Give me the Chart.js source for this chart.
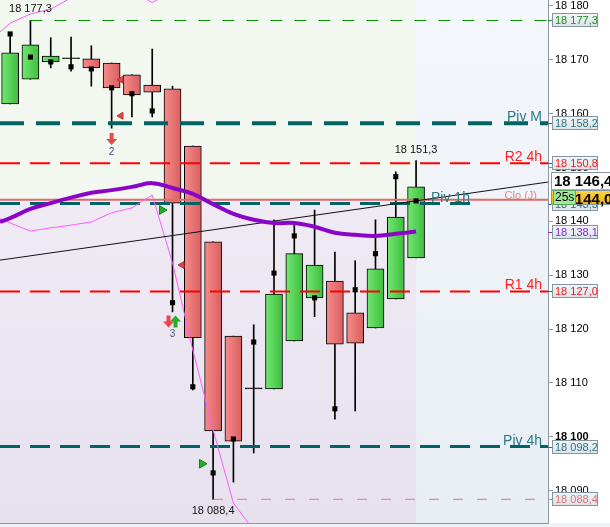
<!DOCTYPE html>
<html>
<head>
<meta charset="utf-8">
<script src="https://cdn.jsdelivr.net/npm/chart.js@4.4.0/dist/chart.umd.min.js"></script>
<style>
body { margin: 0; background: #fff; }
canvas { display: block; }
</style>
</head>
<body>
<canvas id="myChart" width="610" height="527"></canvas>
<script>
// 27 slots on the time axis, the first 21 hold candles
var slotMin = -0.5;
var slotMax = 26.5;
var opens  = [18161.8, 18166.4, 18169.6, 18170.2, 18170.2, 18169.4, 18167.2, 18165.3, 18164.6, 18154.0, 18136.2, 18118.7, 18108.9, 18108.9, 18117.8, 18125.8, 18128.9, 18123.0, 18120.2, 18125.6, 18133.2];
var highs  = [18174.8, 18177.3, 18174.1, 18174.2, 18172.6, 18169.4, 18167.2, 18172.0, 18165.1, 18154.0, 18136.2, 18118.7, 18120.8, 18140.3, 18139.3, 18142.1, 18134.3, 18132.7, 18140.3, 18149.2, 18151.3];
var lows   = [18161.8, 18166.4, 18168.5, 18167.9, 18165.1, 18157.3, 18159.4, 18159.4, 18123.2, 18108.7, 18088.4, 18091.6, 18097.0, 18108.9, 18117.8, 18122.3, 18103.3, 18104.8, 18120.2, 18125.6, 18133.2];
var closes = [18171.3, 18172.8, 18170.7, 18170.2, 18168.5, 18164.8, 18163.5, 18164.0, 18143.4, 18118.4, 18101.1, 18099.2, 18108.9, 18126.5, 18134.0, 18131.9, 18117.2, 18117.4, 18131.2, 18140.8, 18146.4];
var marks  = [18174.8, 18170.5, 18169.6, 18168.7, 18168.3, 18164.8, 18163.7, 18160.5, 18124.9, 18109.3, 18093.3, 18099.6, 18117.6, 18130.4, 18137.3, 18125.8, 18105.2, 18127.3, 18134.0, 18148.3, 18143.8];

// indicators (value at the left edge, then one per candle)
var maEdge = 18139.9;
var maValues = [18140.6, 18142.3, 18143.4, 18144.4, 18145.3, 18145.8, 18146.4, 18147.1, 18146.2, 18145.1, 18143.2, 18141.4, 18140.3, 18139.7, 18139.7, 18139.0, 18137.9, 18137.5, 18137.3, 18137.7, 18138.1];
var bandHighEdge = 18175.2;
var bandHigh = [18176.8, 18178.5, 18179.4, 18181.5, 18183.0, 18183.5, 18182.9, 18180.6, 18182.8, 18190.0, 18198.0, 18204.0];
var bandLowEdge = 18140.5;
var bandLow = [18139.7, 18138.2, 18138.8, 18139.3, 18139.9, 18141.6, 18142.5, 18144.9, 18132.3, 18116.1, 18101.3, 18087.7, 18082.7, 18075.0];
var trendStart = 18132.8;
var trendEnd = 18147.3;

// horizontal levels
var levelValues = [18177.3, 18158.2, 18150.8, 18144.0, 18143.3, 18127.0, 18098.2, 18088.4];
var levelNames  = ['', 'Piv M', 'R2 4h', 'Clo (J)', 'Piv 1h', 'R1 4h', 'Piv 4h', ''];
var levelFrom   = [1, -0.5, -0.5, -0.5, -0.5, -0.5, -0.5, 10];
var levelTo     = [26.5, 26.5, 26.5, 26.5, 22.85, 26.5, 26.5, 26.1];

// price tags on the axis
var tagValues = [18177.3, 18158.2, 18150.8, 18143.3, 18138.1, 18127.0, 18098.2, 18088.4];
var lastPrice = 18146.4;
var closeJ = 18144.0;
var timerText = '25s';

// text on the high / low candles
var noteSlots = [1, 20, 10];
var noteValues = [18177.3, 18151.3, 18088.4];

// signals
var buySlots = [7.48, 9.45];
var buyValues = [18142.1, 18095.0];
var sellSlots = [5.46, 5.46, 8.47];
var sellValues = [18166.3, 18159.6, 18131.9];
var arrowSlots = [5, 8];
var arrowValues = [18154.2, 18120.3];
var arrowCounts = ['2', '3'];

var yTicks = [18090, 18100, 18110, 18120, 18130, 18140, 18150, 18160, 18170, 18180];
var yMin = 18084.0;
var yMax = 18181.1;

// styles, same order as the levels
var levelStyles = [
	{ color: '#0a8a0a', width: 1, dash: [12, 12] },
	{ color: '#006464', width: 4, dash: [24, 12] },
	{ color: '#ff0000', width: 2, dash: [20, 10] },
	{ color: '#de6a6a', width: 2, dash: [] },
	{ color: '#006464', width: 3, dash: [20, 10] },
	{ color: '#ff0000', width: 2, dash: [20, 10] },
	{ color: '#006464', width: 3, dash: [20, 10] },
	{ color: '#e07878', width: 1, dash: [10, 14] }
];
var levelTextColors = ['', '#2b7a86', '#ff2020', '#e58a8a', '#2b7a86', '#ff2020', '#2b7a86', ''];
var tagColors = ['#1e8c1e', '#2b7383', '#f01c1c', '#2b7383', '#8b25d8', '#f01c1c', '#2b7383', '#e07474'];
var FONT = '"Liberation Sans", Arial, sans-serif';

function fmtNum(v, dec) {
	var s = v.toFixed(dec).split('.');
	var ip = s[0].replace(/\B(?=(\d{3})+(?!\d))/g, ' ');
	return dec ? ip + ',' + s[1] : ip;
}

var wickData = [], bodyData = [], markData = [];
for (var i = 0; i < opens.length; i++) {
	wickData.push({ x: i, y: [lows[i], highs[i]] });
	bodyData.push({ x: i, y: [opens[i], closes[i]] });
	markData.push({ x: i, y: marks[i] });
}
var maData = [{ x: slotMin, y: maEdge }];
for (var i = 0; i < maValues.length; i++) maData.push({ x: i, y: maValues[i] });
var bhData = [{ x: slotMin, y: bandHighEdge }];
for (var i = 0; i < bandHigh.length; i++) bhData.push({ x: i, y: bandHigh[i] });
var blData = [{ x: slotMin, y: bandLowEdge }];
for (var i = 0; i < bandLow.length; i++) blData.push({ x: i, y: bandLow[i] });

function bodyColor(context) {
	var i = context.dataIndex;
	if (closes[i] === opens[i]) return '#000';
	var up = closes[i] > opens[i];
	var xs = context.chart.scales.x;
	if (!xs || xs.left === undefined) return up ? '#55d455' : '#e87272';
	var px = xs.getPixelForValue(i);
	var g = context.chart.ctx.createLinearGradient(px - 9, 0, px + 9, 0);
	if (up) { g.addColorStop(0, '#74e874'); g.addColorStop(1, '#3cbd3c'); }
	else { g.addColorStop(0, '#f78c8c'); g.addColorStop(1, '#d85e5e'); }
	return g;
}

var datasets = [
	{ type: 'bar', data: wickData, backgroundColor: '#000', barThickness: 1, grouped: false, order: 10 },
	{ type: 'bar', data: bodyData, backgroundColor: bodyColor, borderColor: '#000', borderWidth: 1, borderSkipped: false,
	  barThickness: 17, grouped: false, minBarLength: 1, order: 9 }
];
for (var k = 0; k < levelValues.length; k++) {
	datasets.push({
		type: 'line',
		data: [{ x: levelFrom[k], y: levelValues[k] }, { x: levelTo[k], y: levelValues[k] }],
		borderColor: levelStyles[k].color, borderWidth: levelStyles[k].width, borderDash: levelStyles[k].dash,
		pointRadius: 0, order: 5
	});
}
datasets.push({ type: 'line', data: [{ x: slotMin, y: trendStart }, { x: slotMax, y: trendEnd }], borderColor: '#111', borderWidth: 1, pointRadius: 0, order: 4 });
datasets.push({ type: 'line', data: bhData, borderColor: '#ff5cff', borderWidth: 1, pointRadius: 0, order: 4 });
datasets.push({ type: 'line', data: blData, borderColor: '#ff5cff', borderWidth: 1, pointRadius: 0, order: 4 });
datasets.push({ type: 'line', data: maData, borderColor: '#8a05c8', borderWidth: 4, tension: 0.4, pointRadius: 0, order: 3 });
datasets.push({ type: 'scatter', data: markData, pointStyle: 'rect', pointRadius: 3.6, backgroundColor: '#000', borderWidth: 0, order: 1 });

var buyData = [], sellData = [];
for (var i = 0; i < buySlots.length; i++) buyData.push({ x: buySlots[i], y: buyValues[i] });
for (var i = 0; i < sellSlots.length; i++) sellData.push({ x: sellSlots[i], y: sellValues[i] });
datasets.push({ type: 'scatter', data: buyData, pointStyle: 'triangle', rotation: 90, pointRadius: 5, backgroundColor: '#22b022', borderColor: '#128012', borderWidth: 1, order: 1 });
datasets.push({ type: 'scatter', data: sellData, pointStyle: 'triangle', rotation: -90, pointRadius: 4, backgroundColor: '#e04848', borderColor: '#c03030', borderWidth: 1, order: 1 });

function drawArrow(ctx, x, tipY, down, color) {
	var d = down ? 1 : -1;
	ctx.fillStyle = color;
	ctx.beginPath();
	ctx.moveTo(x - 2, tipY - d * 12);
	ctx.lineTo(x + 2, tipY - d * 12);
	ctx.lineTo(x + 2, tipY - d * 6);
	ctx.lineTo(x + 5.5, tipY - d * 6);
	ctx.lineTo(x, tipY);
	ctx.lineTo(x - 5.5, tipY - d * 6);
	ctx.lineTo(x - 2, tipY - d * 6);
	ctx.closePath();
	ctx.fill();
}

function tagBox(ctx, x, yc, w, h, fill) {
	ctx.fillStyle = fill;
	ctx.fillRect(x, yc - h / 2, w, h);
	ctx.strokeStyle = '#8496a4';
	ctx.lineWidth = 1;
	ctx.strokeRect(x + 0.5, Math.round(yc - h / 2) + 0.5, w - 1, h - 1);
}

var decor = {
	id: 'decor',
	beforeDraw: function(chart) {
		var ctx = chart.ctx, a = chart.chartArea, xs = chart.scales.x, ys = chart.scales.y;
		ctx.save();
		ctx.fillStyle = '#fff';
		ctx.fillRect(0, 0, chart.width, chart.height);
		var g = ctx.createLinearGradient(0, a.top, 0, a.bottom);
		g.addColorStop(0, '#f4f7fb');
		g.addColorStop(1, '#e8eef4');
		ctx.fillStyle = g;
		ctx.fillRect(a.left, a.top, a.right - a.left, a.bottom - a.top);
		var xEnd = xs.getPixelForValue(opens.length - 1);
		var yc = ys.getPixelForValue(closeJ);
		ctx.fillStyle = '#f2f7ef';
		ctx.fillRect(a.left, a.top, xEnd - a.left, yc - a.top);
		var g2 = ctx.createLinearGradient(0, yc, 0, a.bottom);
		g2.addColorStop(0, '#f0eaf5');
		g2.addColorStop(1, '#e7e1ee');
		ctx.fillStyle = g2;
		ctx.fillRect(a.left, yc, xEnd - a.left, a.bottom - yc);
		ctx.fillStyle = '#eef2f6';
		ctx.fillRect(0, a.bottom, chart.width, chart.height - a.bottom);
		ctx.strokeStyle = '#8a96a2';
		ctx.beginPath();
		ctx.moveTo(0, a.bottom + 0.5);
		ctx.lineTo(a.right, a.bottom + 0.5);
		ctx.stroke();
		ctx.restore();
	},
	afterDatasetsDraw: function(chart) {
		var ctx = chart.ctx, a = chart.chartArea, xs = chart.scales.x, ys = chart.scales.y;
		ctx.save();
		// level names
		for (var k = 0; k < levelNames.length; k++) {
			if (!levelNames[k]) continue;
			var y = ys.getPixelForValue(levelValues[k]);
			var small = levelNames[k] === 'Clo (J)';
			ctx.font = (small ? '11px ' : '14px ') + FONT;
			ctx.fillStyle = levelTextColors[k];
			ctx.textAlign = 'right';
			ctx.textBaseline = 'alphabetic';
			var xr = levelTo[k] < slotMax ? xs.getPixelForValue(levelTo[k]) - 4 : a.right - 6;
			if (small) xr = a.right - 11;
			ctx.fillText(levelNames[k], xr, y - (small ? 1 : 2));
		}
		// notes on highs and lows
		ctx.font = '11px ' + FONT;
		ctx.fillStyle = '#111';
		ctx.textAlign = 'center';
		for (var n = 0; n < noteSlots.length; n++) {
			var nx = xs.getPixelForValue(noteSlots[n]);
			var ny = ys.getPixelForValue(noteValues[n]);
			var above = noteValues[n] >= highs[noteSlots[n]];
			ctx.textBaseline = 'middle';
			ctx.fillText(fmtNum(noteValues[n], 1), nx, above ? ny - 11 : ny + 12);
		}
		// arrows
		for (var m = 0; m < arrowSlots.length; m++) {
			var ax = xs.getPixelForValue(arrowSlots[m]);
			var ay = ys.getPixelForValue(arrowValues[m]);
			if (arrowCounts[m] === '3') {
				drawArrow(ctx, ax - 4, ay, true, '#e84848');
				drawArrow(ctx, ax + 3, ay - 12, false, '#22b022');
			} else {
				drawArrow(ctx, ax, ay, true, '#e84848');
			}
			ctx.font = '10px ' + FONT;
			ctx.fillStyle = '#4a5a7a';
			ctx.textAlign = 'center';
			ctx.textBaseline = 'middle';
			ctx.fillText(arrowCounts[m], ax, ay + 7);
		}
		ctx.restore();
	},
	afterDraw: function(chart) {
		var ctx = chart.ctx, a = chart.chartArea, ys = chart.scales.y;
		var bx = a.right + 4;
		ctx.save();
		ctx.textAlign = 'left';
		ctx.textBaseline = 'middle';
		for (var t = 0; t < tagValues.length; t++) {
			var y = Math.round(ys.getPixelForValue(tagValues[t]));
			ctx.strokeStyle = tagColors[t];
			ctx.lineWidth = 1;
			ctx.beginPath();
			ctx.moveTo(a.right, y + 0.5);
			ctx.lineTo(bx, y + 0.5);
			ctx.stroke();
			var g = ctx.createLinearGradient(0, y - 7, 0, y + 7);
			g.addColorStop(0, '#f3f6f8');
			g.addColorStop(1, '#dbe2e8');
			tagBox(ctx, bx, y, 46, 14, g);
			ctx.font = '11px ' + FONT;
			ctx.fillStyle = tagColors[t];
			ctx.fillText(fmtNum(tagValues[t], 1), bx + 3, y + 0.5);
		}
		// last price
		var yl = Math.round(ys.getPixelForValue(lastPrice)) - 6;
		tagBox(ctx, bx - 1, yl, 70, 18, '#ffffff');
		ctx.font = 'bold 15px ' + FONT;
		ctx.fillStyle = '#000';
		ctx.fillText(fmtNum(lastPrice, 1), bx + 2, yl + 1);
		// close of the day
		var yj = Math.round(ys.getPixelForValue(closeJ)) - 3;
		var og = ctx.createLinearGradient(0, yj - 8, 0, yj + 8);
		og.addColorStop(0, '#ffd84c');
		og.addColorStop(1, '#f0b000');
		tagBox(ctx, bx - 1, yj, 70, 15, og);
		ctx.font = 'bold 15px ' + FONT;
		ctx.fillStyle = '#000';
		ctx.fillText(fmtNum(closeJ, 1), bx + 2, yj + 3);
		ctx.fillStyle = '#a0e89a';
		ctx.fillRect(bx + 1, yj - 7, 23, 15);
		ctx.strokeStyle = '#5aa55a';
		ctx.strokeRect(bx + 1.5, yj - 6.5, 22, 14);
		ctx.font = '12px ' + FONT;
		ctx.fillStyle = '#000';
		ctx.fillText(timerText, bx + 3, yj + 1);
		ctx.restore();
	}
};

var ctx = document.getElementById('myChart');
var myChart = new Chart(ctx, {
	type: 'bar',
	data: { datasets: datasets },
	plugins: [decor],
	options: {
		responsive: false,
		animation: false,
		devicePixelRatio: 1,
		layout: { autoPadding: false, padding: { left: 0, right: 0, top: 0, bottom: 4 } },
		plugins: { legend: { display: false }, tooltip: { enabled: false } },
		scales: {
			x: { type: 'linear', min: slotMin, max: slotMax, offset: false, display: false },
			y: {
				position: 'right',
				min: yMin,
				max: yMax,
				afterFit: function(scale) { scale.width = 62; scale.paddingTop = 0; scale.paddingBottom = 0; },
				afterBuildTicks: function(scale) { scale.ticks = yTicks.map(function(v) { return { value: v }; }); },
				grid: { drawOnChartArea: false, color: '#8a97a4', tickLength: 5 },
				border: { color: '#8a97a4' },
				ticks: {
					padding: 2,
					color: '#000',
					autoSkip: false,
					font: function(c) { return { family: FONT, size: 11, weight: c.tick && c.tick.value === 18100 ? 'bold' : 'normal' }; },
					callback: function(v) { return fmtNum(v, 0); }
				}
			}
		}
	}
});
</script>
</body>
</html>
